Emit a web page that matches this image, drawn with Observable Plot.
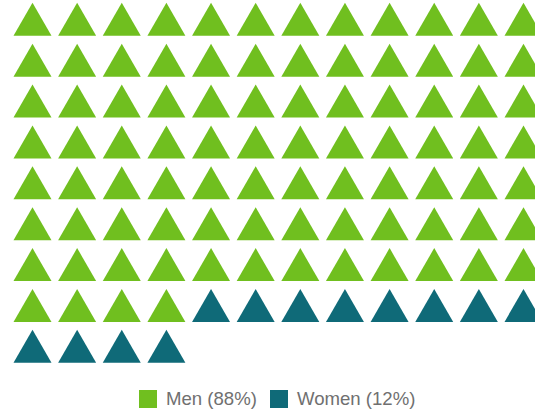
<!DOCTYPE html>
<html>
<head>
<meta charset="utf-8">
<script src="https://cdn.jsdelivr.net/npm/d3@7"></script>
<script src="https://cdn.jsdelivr.net/npm/@observablehq/plot@0.6"></script>
<style>
  html, body { margin: 0; padding: 0; background: #fff; }
  #wrap { position: relative; width: 535px; height: 411px; overflow: hidden; }
  #legend { position: absolute; left: 139px; top: 388px; display: flex; align-items: center;
            font-family: "Liberation Sans", Arial, sans-serif; font-size: 18.6px; color: #707070; white-space: nowrap; }
  .sw { display: inline-block; width: 18px; height: 18px; margin-right: 9px; }
  .item { display: flex; align-items: center; margin-right: 13px; }
</style>
</head>
<body>
<div id="wrap"><div id="chart"></div><div id="legend"></div></div>
<script>
const categories = ["Men (88%)", "Women (12%)"];
const values = [88, 12];
const colors = ["#70bf1f", "#0f6a78"];
const columns = 12;

// one unit per percentage point, filled row by row
const units = [];
categories.forEach((c, ci) => {
  for (let k = 0; k < values[ci]; k++) {
    const i = units.length;
    units.push({category: c, col: i % columns, row: Math.floor(i / columns)});
  }
});
const rows = Math.ceil(units.length / columns);

const chart = Plot.plot({
  width: 535,
  height: 380,
  margin: 0,
  x: {domain: [0, columns - 1], range: [32, 523], axis: null},
  y: {domain: [0, rows - 1], range: [24.3, 351.3], axis: null},
  color: {domain: categories, range: colors},
  marks: [
    Plot.dot(units, {x: "col", y: "row", fill: "category", symbol: "triangle", r: 14.1, stroke: null})
  ]
});
document.getElementById("chart").appendChild(chart);

const legend = document.getElementById("legend");
categories.forEach((c, i) => {
  const item = document.createElement("span");
  item.className = "item";
  const sw = document.createElement("span");
  sw.className = "sw";
  sw.style.background = colors[i];
  item.appendChild(sw);
  item.appendChild(document.createTextNode(c));
  legend.appendChild(item);
});
</script>
</body>
</html>
